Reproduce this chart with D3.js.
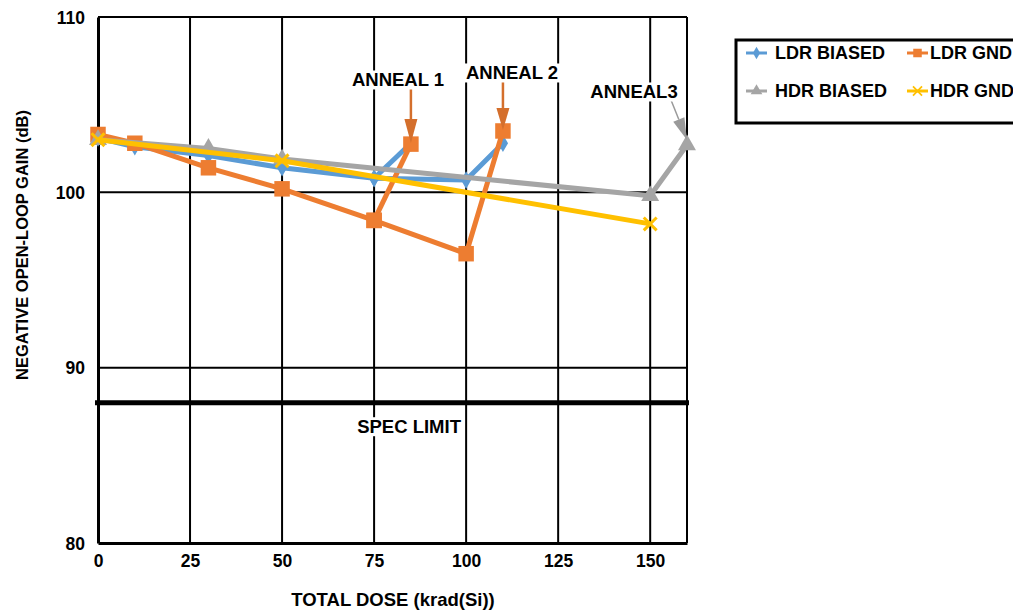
<!DOCTYPE html>
<html>
<head>
<meta charset="utf-8">
<script src="https://cdn.jsdelivr.net/npm/d3@7/dist/d3.min.js"></script>
<style>
  html, body { margin: 0; padding: 0; background: #fff; }
  svg { display: block; font-family: "Liberation Sans", Arial, sans-serif; font-weight: bold; }
</style>
</head>
<body>
<svg id="chart" width="1013" height="610"></svg>
<script>
// Total dose (krad(Si)) and negative open-loop gain (dB) per series
const ldrDose = [0, 10, 30, 50, 75, 100, 110];
const ldrBiased = [103.1, 102.6, 102.1, 101.4, 100.8, 100.7, 102.8];
const ldrGnd = [103.3, 102.8, 101.4, 100.2, 98.4, 96.5, 103.5];

// First anneal step, branching off the 75 krad point
const anneal1Dose = 85;
const ldrBiasedAnneal1 = 102.8;
const ldrGndAnneal1 = 102.75;

const hdrBiasedDose = [0, 30, 50, 150, 160];
const hdrBiased = [103.0, 102.5, 101.9, 99.8, 102.7];
const hdrGndDose = [0, 50, 150];
const hdrGnd = [103.0, 101.8, 98.2];

const specLimit = 88;
const xTicks = [0, 25, 50, 75, 100, 125, 150];
const yTicks = [80, 90, 100, 110];
const seriesNames = ["LDR BIASED", "LDR GND", "HDR BIASED", "HDR GND"];
const annealLabels = ["ANNEAL 1", "ANNEAL 2", "ANNEAL3"];

const colors = { blue: "#5B9BD5", orange: "#ED7D31", grey: "#A5A5A5", yellow: "#FFC000" };

const svg = d3.select("#chart");
const plot = { left: 98, right: 687, top: 17, bottom: 543 };

const x = d3.scaleLinear().domain([0, 160]).range([plot.left, plot.right]);
const y = d3.scaleLinear().domain([80, 110]).range([plot.bottom, plot.top]);

// Grid
const grid = svg.append("g");
grid.selectAll("line.v").data(xTicks.slice(1)).join("line")
  .attr("x1", d => x(d)).attr("x2", d => x(d))
  .attr("y1", plot.top).attr("y2", plot.bottom)
  .attr("stroke", "#000").attr("stroke-width", 2);
grid.selectAll("line.h").data(yTicks.slice(1)).join("line")
  .attr("x1", plot.left).attr("x2", plot.right)
  .attr("y1", d => y(d)).attr("y2", d => y(d))
  .attr("stroke", "#000").attr("stroke-width", 2);
grid.append("line").attr("x1", plot.right).attr("x2", plot.right)
  .attr("y1", plot.top).attr("y2", plot.bottom).attr("stroke", "#000").attr("stroke-width", 2);

// Axes
const xAxis = d3.axisBottom(x).tickValues(xTicks).tickSize(0).tickPadding(12);
const yAxis = d3.axisLeft(y).tickValues(yTicks).tickSize(0).tickPadding(13);
const gx = svg.append("g").attr("transform", `translate(0,${plot.bottom})`).call(xAxis);
const gy = svg.append("g").attr("transform", `translate(${plot.left},0)`).call(yAxis);
[gx, gy].forEach(g => {
  g.select(".domain").attr("stroke", "#000").attr("stroke-width", 3);
  g.selectAll("text").attr("font-size", 17.5).attr("font-weight", "bold")
    .attr("font-family", "Liberation Sans, Arial, sans-serif").attr("fill", "#000");
});
gy.selectAll("text").attr("dy", "0.35em");

// Spec limit
svg.append("line")
  .attr("x1", plot.left - 3).attr("x2", plot.right + 2)
  .attr("y1", y(specLimit)).attr("y2", y(specLimit))
  .attr("stroke", "#000").attr("stroke-width", 5);

function boxedText(tx, ty, txt, size) {
  const g = svg.append("g");
  const t = g.append("text").attr("x", tx).attr("y", ty)
    .attr("text-anchor", "middle").attr("dy", "0.35em")
    .attr("font-size", size).attr("fill", "#000").text(txt);
  const b = t.node().getBBox();
  g.insert("rect", "text").attr("x", b.x - 2).attr("y", b.y + 1)
    .attr("width", b.width + 4).attr("height", b.height - 2).attr("fill", "#fff");
  return g;
}
boxedText(x(84.5), y(specLimit) + 24, "SPEC LIMIT", 18.5);

// Series
const line = d3.line().x(d => x(d[0])).y(d => y(d[1]));
const zipPts = (xs, ys) => xs.map((v, i) => [v, ys[i]]);

const diamond = d3.symbol().type(d3.symbolDiamond).size(90);
const square = d3.symbol().type(d3.symbolSquare).size(240);
const triangle = d3.symbol().type(d3.symbolTriangle).size(140);
const cross = d3.symbol().type(d3.symbolX).size(110);

function drawSeries(paths, color, width, sym, symStyle) {
  const g = svg.append("g");
  paths.forEach(p => g.append("path").attr("d", line(p)).attr("fill", "none")
    .attr("stroke", color).attr("stroke-width", width).attr("stroke-linejoin", "round"));
  const pts = paths.flat();
  g.selectAll("path.m").data(pts).join("path")
    .attr("transform", d => `translate(${x(d[0])},${y(d[1])})`)
    .attr("d", sym)
    .call(symStyle);
}

const biasedPts = zipPts(ldrDose, ldrBiased);
drawSeries([biasedPts, [biasedPts[4], [anneal1Dose, ldrBiasedAnneal1]]], colors.blue, 5, diamond,
  s => s.attr("fill", colors.blue));

const gndPts = zipPts(ldrDose, ldrGnd);
drawSeries([gndPts, [gndPts[4], [anneal1Dose, ldrGndAnneal1]]], colors.orange, 5, square,
  s => s.attr("fill", colors.orange));

drawSeries([zipPts(hdrBiasedDose, hdrBiased)], colors.grey, 5, triangle,
  s => s.attr("fill", colors.grey));

drawSeries([zipPts(hdrGndDose, hdrGnd)], colors.yellow, 5, cross,
  s => s.attr("fill", colors.yellow).attr("stroke", colors.yellow).attr("stroke-width", 3));

// Anneal callouts
function arrow(x1, y1, x2, y2, color, w, headLen, headW) {
  const ang = Math.atan2(y2 - y1, x2 - x1);
  const bx = x2 - headLen * Math.cos(ang), by = y2 - headLen * Math.sin(ang);
  svg.append("line").attr("x1", x1).attr("y1", y1).attr("x2", bx).attr("y2", by)
    .attr("stroke", color).attr("stroke-width", w);
  const px = -Math.sin(ang) * headW / 2, py = Math.cos(ang) * headW / 2;
  svg.append("path")
    .attr("d", `M${x2},${y2}L${bx + px},${by + py}L${bx - px},${by - py}Z`)
    .attr("fill", color);
}
const annealArrow = "#D46F2C";
arrow(x(anneal1Dose), 89, x(anneal1Dose), y(ldrGndAnneal1) - 1, annealArrow, 2.5, 24, 13);
arrow(x(110), 82, x(110), y(103.5) - 1, annealArrow, 2.5, 22, 13);
arrow(671, 100, x(160), y(102.7) - 5, "#9A9A9A", 1.5, 22, 12);

boxedText(398, 80, annealLabels[0], 18.5);
boxedText(512, 73, annealLabels[1], 18.5);
boxedText(634, 92, annealLabels[2], 18.5);

// Axis titles
svg.append("text").attr("x", 393).attr("y", 600).attr("dy", "0.35em")
  .attr("text-anchor", "middle").attr("font-size", 18.5).text("TOTAL DOSE (krad(Si))");
svg.append("text").attr("transform", "translate(22,245) rotate(-90)").attr("dy", "0.35em")
  .attr("text-anchor", "middle").attr("font-size", 16.5).text("NEGATIVE OPEN-LOOP GAIN (dB)");

// Legend
const legend = svg.append("g");
legend.append("rect").attr("x", 736).attr("y", 40).attr("width", 320).attr("height", 83)
  .attr("fill", "#fff").attr("stroke", "#000").attr("stroke-width", 3);
const legendItems = [
  { name: seriesNames[0], color: colors.blue, sym: diamond, lx: 746, ly: 53 },
  { name: seriesNames[1], color: colors.orange, sym: square, lx: 907, ly: 53 },
  { name: seriesNames[2], color: colors.grey, sym: triangle, lx: 746, ly: 91 },
  { name: seriesNames[3], color: colors.yellow, sym: cross, lx: 907, ly: 91 }
];
const symScale = { [seriesNames[0]]: 0.7, [seriesNames[1]]: 0.55, [seriesNames[2]]: 0.65, [seriesNames[3]]: 0.7 };
legendItems.forEach(it => {
  legend.append("line").attr("x1", it.lx).attr("x2", it.lx + 21)
    .attr("y1", it.ly).attr("y2", it.ly).attr("stroke", it.color).attr("stroke-width", 3);
  const m = legend.append("path")
    .attr("transform", `translate(${it.lx + 10.5},${it.ly}) scale(${symScale[it.name]})`)
    .attr("d", it.sym).attr("fill", it.color);
  if (it.name === seriesNames[3]) m.attr("stroke", it.color).attr("stroke-width", 2.5);
  legend.append("text").attr("x", it.lx + (it.lx > 800 ? 23 : 29)).attr("y", it.ly)
    .attr("dy", "0.35em").attr("font-size", 18).text(it.name);
});
</script>
</body>
</html>
